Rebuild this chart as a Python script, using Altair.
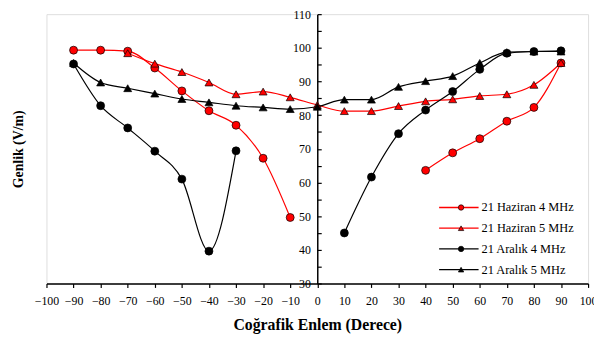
import altair as alt
import pandas as pd

series_names = ["21 Haziran 4 MHz", "21 Haziran 5 MHz", "21 Aralık 4 MHz", "21 Aralık 5 MHz"]
series_colors = ["#ff0000", "#ff0000", "#000000", "#000000"]
series_shapes = ["circle", "triangle-up", "circle", "triangle-up"]

lat_h4 = [-90, -80, -70, -60, -50, -40, -30, -20, -10, 40, 50, 60, 70, 80, 90]
val_h4 = [99.3, 99.3, 99.0, 94.0, 87.2, 81.3, 77.0, 67.2, 49.6, 63.6, 68.8, 73.0, 78.2, 82.3, 95.5]

lat_h5 = [-70, -60, -50, -40, -30, -20, -10, 0, 10, 20, 30, 40, 50, 60, 70, 80, 90]
val_h5 = [98.4, 95.3, 92.8, 89.7, 86.2, 87.0, 85.3, 83.0, 81.2, 81.2, 82.7, 84.1, 84.7, 85.7, 86.2, 89.0, 95.5]

lat_a4 = [-90, -80, -70, -60, -50, -40, -30, 10, 20, 30, 40, 50, 60, 70, 80, 90]
val_a4 = [95.2, 82.8, 76.2, 69.3, 61.0, 39.6, 69.4, 45.0, 61.6, 74.5, 81.5, 87.0, 93.6, 98.4, 98.9, 99.1]

lat_a5 = [-90, -80, -70, -60, -50, -40, -30, -20, -10, 0, 10, 20, 30, 40, 50, 60, 70, 80, 90]
val_a5 = [95.5, 89.7, 88.0, 86.4, 84.8, 83.8, 82.8, 82.3, 81.8, 82.5, 84.6, 84.6, 88.4, 90.1, 91.6, 95.5, 98.7, 98.9, 98.9]

x_ticks = list(range(-100, 101, 10))
y_labels = list(range(30, 111, 10))
y_ticks = list(range(30, 111, 5))

rows = []
for name, lats, vals in zip(series_names, [lat_h4, lat_h5, lat_a4, lat_a5],
                            [val_h4, val_h5, val_a4, val_a5]):
    seg = 0
    for i, (la, v) in enumerate(zip(lats, vals)):
        if i > 0 and la - lats[i - 1] > 10:
            seg += 1
        rows.append({"series": name, "s2": name, "key": f"{name}-{seg}", "lat": la, "val": v})
df = pd.DataFrame(rows)

FONT = "Liberation Serif"
W, H = 549, 273
YOFF = W / 2

xaxis = alt.Axis(values=x_ticks, tickSize=4, tickColor="black", tickWidth=1.2,
                 domainColor="black", domainWidth=1.5, labelFont=FONT, labelFontSize=12,
                 labelColor="black", labelPadding=8, labelFlush=False, labelOverlap=False,
                 grid=False, title="Coğrafik Enlem (Derece)", titleFont=FONT,
                 titleFontSize=16, titleFontWeight="bold", titleColor="black", titlePadding=11)
xenc = alt.X("lat:Q", scale=alt.Scale(domain=[-100, 100], nice=False, zero=False), axis=xaxis)
yscale = alt.Scale(domain=[30, 110], nice=False, zero=False)

lines = alt.Chart(df).mark_line(interpolate="monotone", strokeWidth=1.2).encode(
    x=xenc,
    y=alt.Y("val:Q", scale=yscale, axis=alt.Axis(
        orient="left", offset=-YOFF, values=y_labels, ticks=False, labelPadding=7,
        domainColor="black", domainWidth=1.5, labelFont=FONT, labelFontSize=12,
        labelColor="black", labelFlush=False, labelOverlap=False, grid=False,
        title="Genlik (V/m)", titleX=-(YOFF + 28), titleY=H / 2, titleAngle=270,
        titleBaseline="middle", titleAlign="center", titleFont=FONT, titleFontSize=14,
        titleFontWeight="bold", titleColor="black")),
    color=alt.Color("s2:N", scale=alt.Scale(domain=series_names, range=series_colors),
                    legend=alt.Legend(title=None, orient="none", legendX=397, legendY=190,
                                      symbolType="stroke", symbolSize=1600,
                                      symbolStrokeWidth=1.3, clipHeight=12, rowPadding=8,
                                      padding=0, labelFont=FONT, labelFontSize=12.5,
                                      labelColor="black", labelOffset=2)),
    detail="key:N",
    order="lat:Q",
)

pt_legend = alt.Legend(title=None, orient="none", legendX=414, legendY=190,
                       symbolSize=30, symbolStrokeColor="black", symbolStrokeWidth=0.7,
                       clipHeight=12, rowPadding=8, padding=0, labelExpr="''",
                       labelFont=FONT, labelFontSize=12.5)

points = alt.Chart(df).mark_point(filled=True, size=65, stroke="black", strokeWidth=0.7,
                                  opacity=1).encode(
    x=xenc,
    y=alt.Y("val:Q", scale=yscale, axis=alt.Axis(
        orient="right", offset=-YOFF, values=y_ticks, labels=False, domain=False,
        tickSize=4, tickColor="black", tickWidth=1.2, grid=False, title="")),
    color=alt.Color("series:N", scale=alt.Scale(domain=series_names, range=series_colors),
                    legend=pt_legend),
    shape=alt.Shape("series:N", scale=alt.Scale(domain=series_names, range=series_shapes),
                    legend=pt_legend),
)

chart = alt.layer(lines, points).resolve_scale(
    color="independent", shape="independent").resolve_axis(y="independent").properties(
    width=W, height=H, autosize=alt.AutoSizeParams(type="none"),
    padding={"left": 39, "top": 4, "right": 6, "bottom": 50},
).configure_view(stroke="black", strokeWidth=1.5).configure(
    background="white", font=FONT
).configure_axis(labelFont=FONT, titleFont=FONT).configure_legend(labelFont=FONT)

chart.save("out.html", embed_options={"renderer": "svg", "actions": False})
